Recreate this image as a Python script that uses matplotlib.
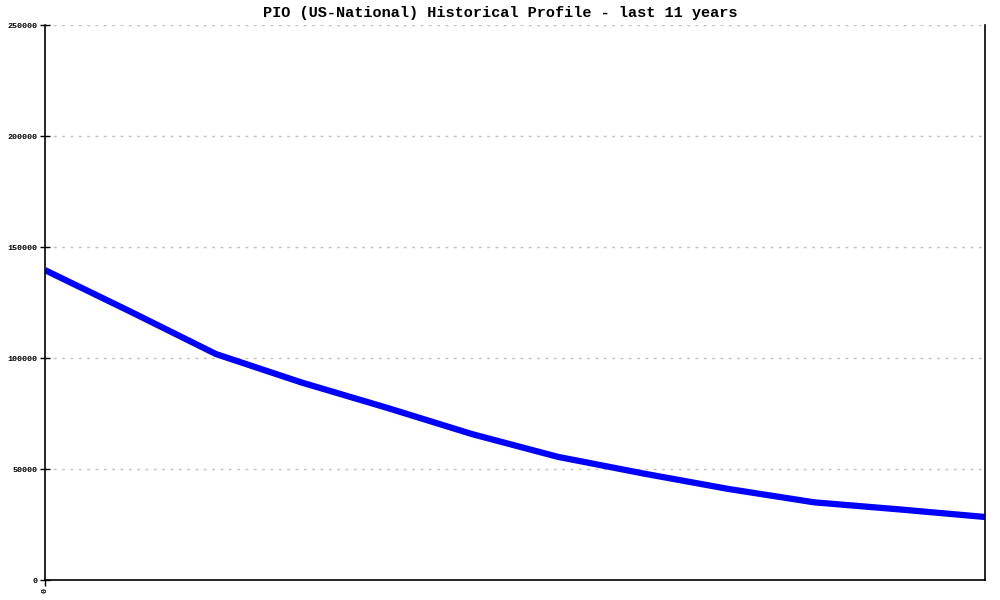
#!/usr/bin/env python3
import numpy as np
import matplotlib
matplotlib.use("Agg")
import matplotlib.pyplot as plt

# values (one per year step)
years = np.arange(12)
values = [139600, 120900, 101800, 89000, 77600, 65700,
          55500, 48000, 41000, 35000, 31800, 28400]
y_ticks = [0, 50000, 100000, 150000, 200000, 250000]
title = "PIO (US-National) Historical Profile - last 11 years"

plt.rcParams["font.family"] = ["Liberation Mono", "DejaVu Sans Mono"]

fig = plt.figure(figsize=(10, 6), dpi=100)
ax = fig.add_axes([0.045, 0.0333, 0.94, 0.925])

ax.plot(years, values, color="#0000ff", linewidth=4.5, solid_capstyle="butt")

ax.set_xlim(years[0], years[-1])
ax.set_ylim(0, 250000)
ax.set_yticks(y_ticks)
ax.set_yticklabels([str(v) for v in y_ticks], fontsize=6, fontweight="bold")
ax.set_xticks([0])
ax.set_xticklabels(["0"], fontsize=6, fontweight="bold", rotation=90)
ax.tick_params(axis="y", direction="inout", length=7, width=1, pad=2)
ax.tick_params(axis="x", direction="out", length=4, width=1, pad=2)

ax.grid(axis="y", color="#c0c0c0", linestyle=(0, (2, 4)), linewidth=1)
ax.set_axisbelow(True)

ax.spines["top"].set_visible(False)
for side in ("left", "bottom", "right"):
    ax.spines[side].set_color("black")
    ax.spines[side].set_linewidth(1.2)

fig.text(0.5, 0.978, title, ha="center", va="center",
         fontsize=11, fontweight="bold")

fig.savefig("out.png", dpi=100)
